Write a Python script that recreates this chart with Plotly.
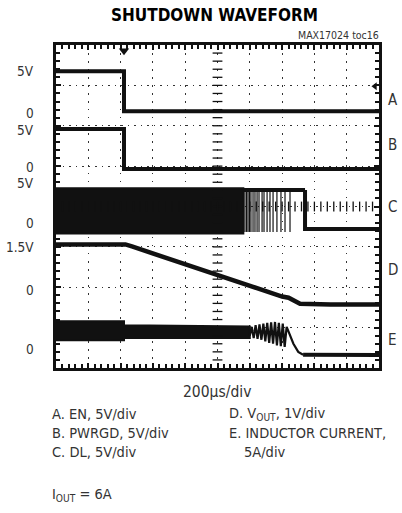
import numpy as np
import plotly.graph_objects as go

# ---------------- data (time in µs, amplitude in scope divisions) ----------------
# A: EN
en_t = [0, 421, 421, 2000]
en_v = [7.35, 7.35, 6.36, 6.36]
# B: PWRGD
pg_t = [0, 421, 421, 2000]
pg_v = [5.92, 5.92, 4.93, 4.93]
# C: DL - dense switching band, then sparse pulses, then low
dl_band_t = [0, 1160]
dl_band_hi = 4.45
dl_band_lo = 3.33
dl_high_t = [1160, 1542]
dl_high_v = 4.41
dl_pulse_t = [1170, 1180, 1189, 1198, 1207, 1220, 1232, 1245, 1257, 1276, 1288,
              1307, 1325, 1344, 1368, 1393, 1418, 1449]
dl_pulse_lo = 3.37
dl_low_t = [1542, 1542, 2000]
dl_low_v = [4.41, 3.44, 3.44]
# D: VOUT
vo_t = [0, 430, 470, 1000, 1400, 1440, 1470, 1511, 1700, 2000]
vo_v = [3.06, 3.06, 3.01, 2.30, 1.77, 1.74, 1.68, 1.59, 1.57, 1.57]
# E: inductor current envelope (before oscillation), zigzag + fall, and tail
il_env_t = [0, 421, 421, 800, 1200]
il_env_hi = [1.16, 1.16, 1.06, 1.04, 1.03]
il_env_lo = [0.69, 0.69, 0.74, 0.74, 0.74]
il_osc_t = [1200, 1212, 1224, 1236, 1248, 1260, 1272, 1284, 1296, 1308, 1320, 1332,
            1344, 1356, 1368, 1380, 1392, 1404, 1416, 1428, 1440, 1470, 1500, 1530]
il_osc_v = [0.80, 1.02, 0.74, 1.06, 0.72, 1.08, 0.70, 1.10, 0.66, 1.12, 0.62, 1.13,
            0.60, 1.14, 0.56, 1.12, 0.54, 1.10, 0.52, 1.02, 0.90, 0.60, 0.40, 0.33]
il_tail_t = [1530, 2000]
il_tail_v = [0.33, 0.32]

trig_t = 421
trig_level_t = 1975
trig_level_v = 6.98

left_labels = ["5V", "0", "5V", "0", "5V", "0", "1.5V", "0", "0"]
left_label_y = [7.35, 6.32, 5.90, 4.98, 4.58, 3.59, 3.0, 1.93, 0.47]
right_labels = ["A", "B", "C", "D", "E"]
right_label_y = [6.63, 5.52, 3.99, 2.43, 0.69]

FONT = "Liberation Sans Narrow, Arial Narrow, DejaVu Sans Condensed, sans-serif"
INK = "#111111"
TXT = "#333333"

fig = go.Figure()

# A, B
fig.add_trace(go.Scatter(x=en_t, y=en_v, mode="lines", line=dict(color=INK, width=4)))
fig.add_trace(go.Scatter(x=pg_t, y=pg_v, mode="lines", line=dict(color=INK, width=4)))

# C dense band
fig.add_trace(go.Scatter(
    x=[dl_band_t[0], dl_band_t[1], dl_band_t[1], dl_band_t[0], dl_band_t[0]],
    y=[dl_band_hi, dl_band_hi, dl_band_lo, dl_band_lo, dl_band_hi],
    mode="lines", fill="toself", fillcolor=INK, line=dict(color=INK, width=2)))
fig.add_trace(go.Scatter(x=dl_high_t, y=[dl_high_v] * len(dl_high_t), mode="lines",
                         line=dict(color=INK, width=4)))
px, py = [], []
for t in dl_pulse_t:
    px += [t, t, None]
    py += [dl_high_v, dl_pulse_lo, None]
fig.add_trace(go.Scatter(x=px, y=py, mode="lines", line=dict(color=INK, width=1.2)))
fig.add_trace(go.Scatter(x=dl_low_t, y=dl_low_v, mode="lines", line=dict(color=INK, width=4)))

# D
fig.add_trace(go.Scatter(x=vo_t, y=vo_v, mode="lines", line=dict(color=INK, width=4.5)))

# E
fig.add_trace(go.Scatter(
    x=il_env_t + il_env_t[::-1], y=il_env_hi + il_env_lo[::-1],
    mode="lines", fill="toself", fillcolor=INK, line=dict(color=INK, width=2)))
fig.add_trace(go.Scatter(x=il_osc_t, y=il_osc_v, mode="lines", line=dict(color=INK, width=2.2)))
fig.add_trace(go.Scatter(x=il_tail_t, y=il_tail_v, mode="lines", line=dict(color=INK, width=4)))

# centre cross ticks
cy = np.arange(0.2, 8.0, 0.2)
fig.add_trace(go.Scatter(x=[1000] * len(cy), y=cy, mode="markers",
                         marker=dict(symbol="line-ew", size=7, line=dict(color=INK, width=1.3))))
cx = np.arange(40, 2000, 40)
fig.add_trace(go.Scatter(x=cx, y=[4] * len(cx), mode="markers",
                         marker=dict(symbol="line-ns", size=7, line=dict(color=INK, width=1.3))))

# trigger markers
fig.add_trace(go.Scatter(x=[trig_t], y=[7.86], mode="markers",
                         marker=dict(symbol="triangle-down", size=9, color=INK)))
fig.add_trace(go.Scatter(x=[trig_level_t], y=[trig_level_v], mode="markers",
                         marker=dict(symbol="triangle-left", size=7, color=INK)))

fig.update_xaxes(range=[0, 2000], dtick=200, showgrid=True, gridcolor="#333333", gridwidth=1.3,
                 griddash="1.5px,6.5px", zeroline=False, showline=True, linecolor=INK, linewidth=3,
                 mirror="ticks", ticks="inside", ticklen=5, tickwidth=1.5, tickcolor=INK,
                 showticklabels=False,
                 minor=dict(dtick=40, ticks="inside", ticklen=4, tickwidth=1.5, tickcolor=INK, showgrid=False))
fig.update_yaxes(range=[0, 8], dtick=1, showgrid=True, gridcolor="#333333", gridwidth=1.3,
                 griddash="1.5px,5px", zeroline=False, showline=True, linecolor=INK, linewidth=3,
                 mirror="ticks", ticks="inside", ticklen=5, tickwidth=1.5, tickcolor=INK,
                 showticklabels=False,
                 minor=dict(dtick=0.2, ticks="inside", ticklen=4, tickwidth=1.5, tickcolor=INK, showgrid=False))

def A(text, x, y, xanchor="center", yref="paper", size=15, color=TXT):
    return dict(text=text, x=x, y=y, xref="paper", yref=yref, xanchor=xanchor, yanchor="middle",
                showarrow=False, font=dict(family=FONT, size=size, color=color))

ann = []
ann.append(A("<b>SHUTDOWN WAVEFORM</b>", 0.492, 1.093, size=17, color="#000"))
ann.append(A("MAX17024 toc16", 1.006, 1.031, xanchor="right", size=10.5))
for lab, yv in zip(left_labels, left_label_y):
    ann.append(A(lab, -0.062, yv, xanchor="right", yref="y", size=13.5))
for lab, yv in zip(right_labels, right_label_y):
    ann.append(A(lab, 1.043, yv, xanchor="center", yref="y", size=15))
ann.append(A("200µs/div", 0.498, -0.0743, size=15.5))
legend_left = ["A. EN, 5V/div", "B. PWRGD, 5V/div", "C. DL, 5V/div"]
legend_right = ["D. V<sub>OUT</sub>, 1V/div", "E. INDUCTOR CURRENT,", "5A/div"]
legend_right_x = [0.529, 0.529, 0.576]
rows_y = [-0.142, -0.201, -0.260]
for txt, yv in zip(legend_left, rows_y):
    ann.append(A(txt, -0.0186, yv, xanchor="left", size=14.5))
for txt, xx, yv in zip(legend_right, legend_right_x, rows_y):
    ann.append(A(txt, xx, yv, xanchor="left", size=14.5))
ann.append(A("I<sub>OUT</sub> = 6A", -0.0186, -0.393, xanchor="left", size=14.5))

fig.update_layout(width=402, height=513, margin=dict(l=56, r=23, t=45, b=145),
                  paper_bgcolor="white", plot_bgcolor="white", showlegend=False,
                  annotations=ann)

fig.write_html("out.html", config={"displayModeBar": False},
               post_script="document.body.style.margin='0';")
